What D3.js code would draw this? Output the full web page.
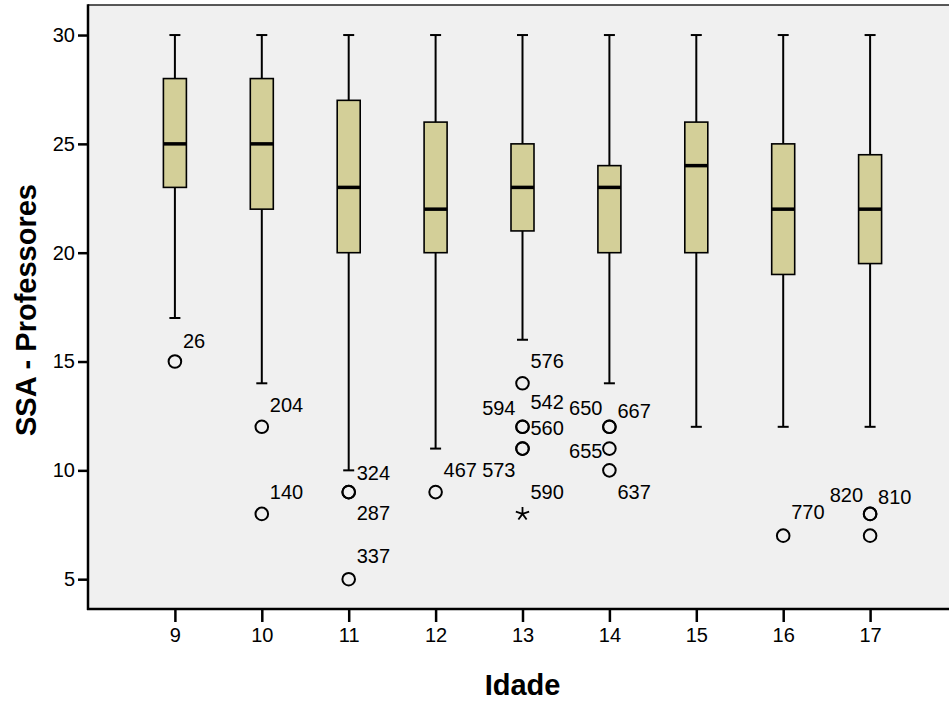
<!DOCTYPE html>
<html>
<head>
<meta charset="utf-8">
<script src="https://cdn.jsdelivr.net/npm/d3@7"></script>
<style>
  html, body { margin: 0; padding: 0; background: #ffffff; }
  svg { display: block; }
  text { font-family: "Liberation Sans", Arial, sans-serif; fill: #000; }
</style>
</head>
<body>
<svg id="chart" width="949" height="702"></svg>
<script>
// ---------- data ----------
const ages        = [9, 10, 11, 12, 13, 14, 15, 16, 17];
const whiskerLow  = [17, 14, 10, 11, 16, 14, 12, 12, 12];
const q1          = [23, 22, 20, 20, 21, 20, 20, 19, 19.5];
const medians     = [25, 25, 23, 22, 23, 23, 24, 22, 22];
const q3          = [28, 28, 27, 26, 25, 24, 26, 25, 24.5];
const whiskerHigh = [30, 30, 30, 30, 30, 30, 30, 30, 30];

const outlierAge   = [9, 10, 10, 11, 11, 11, 12, 13, 13, 13, 13, 13, 13, 14, 14, 14, 14, 16, 17, 17, 17];
const outlierValue = [15, 12, 8, 9, 9, 5, 9, 14, 12, 12, 11, 11, 8, 12, 12, 11, 10, 7, 8, 8, 7];
const outlierId    = ["26", "204", "140", "324", "287", "337", "467", "576", "542", "594", "560", "573", "590",
                      "650", "667", "655", "637", "770", "820", "810", ""];
const outlierKind  = ["o","o","o","o","o","o","o","o","o","o","o","o","*","o","o","o","o","o","o","o","o"];

const yTicks = [5, 10, 15, 20, 25, 30];
const xLabel = "Idade";
const yLabel = "SSA - Professores";

// label placement (layout, not data): side and vertical offset in px
const labelSide = ["r","r","r","r","r","r","r","r","r","l","r","l","r","l","r","l","r","r","l","r",""];
const labelDy   = [-21,-22,-22,-19,21,-23,-22,-22,-25,-19,-21,21,-22,-19,-16,2,21,-24,-19,-17,0];

// ---------- layout ----------
const svg = d3.select("#chart");
const mLeft = 88, mTop = 5, mBottom = 609, mRight = 957;

const x = d3.scaleLinear().domain([8, 18]).range([mLeft, mRight]);
const y = d3.scaleLinear().domain([3.63, 31.38]).range([mBottom, mTop]);

// plot background
svg.append("rect")
  .attr("x", mLeft).attr("y", mTop)
  .attr("width", mRight - mLeft).attr("height", mBottom - mTop)
  .attr("fill", "#f0f0f0");

// top border
svg.append("line")
  .attr("x1", mLeft).attr("x2", mRight).attr("y1", mTop).attr("y2", mTop)
  .attr("stroke", "#222").attr("stroke-width", 1.5);

const boxW = 23, capW = 11;
const boxData = ages.map((a, i) => ({a, lo: whiskerLow[i], q1: q1[i], med: medians[i], q3: q3[i], hi: whiskerHigh[i]}));

const g = svg.append("g");
const boxes = g.selectAll("g.box").data(boxData).join("g").attr("class", "box");

// whiskers
boxes.append("line")
  .attr("x1", d => x(d.a)).attr("x2", d => x(d.a))
  .attr("y1", d => y(d.hi)).attr("y2", d => y(d.q3))
  .attr("stroke", "#000").attr("stroke-width", 2);
boxes.append("line")
  .attr("x1", d => x(d.a)).attr("x2", d => x(d.a))
  .attr("y1", d => y(d.q1)).attr("y2", d => y(d.lo))
  .attr("stroke", "#000").attr("stroke-width", 2);
// caps
boxes.append("line")
  .attr("x1", d => x(d.a) - capW / 2).attr("x2", d => x(d.a) + capW / 2)
  .attr("y1", d => y(d.hi)).attr("y2", d => y(d.hi))
  .attr("stroke", "#000").attr("stroke-width", 2);
boxes.append("line")
  .attr("x1", d => x(d.a) - capW / 2).attr("x2", d => x(d.a) + capW / 2)
  .attr("y1", d => y(d.lo)).attr("y2", d => y(d.lo))
  .attr("stroke", "#000").attr("stroke-width", 2);
// box
boxes.append("rect")
  .attr("x", d => x(d.a) - boxW / 2).attr("width", boxW)
  .attr("y", d => y(d.q3)).attr("height", d => y(d.q1) - y(d.q3))
  .attr("fill", "#d3cf98").attr("stroke", "#000").attr("stroke-width", 1.6);
// median
boxes.append("line")
  .attr("x1", d => x(d.a) - boxW / 2).attr("x2", d => x(d.a) + boxW / 2)
  .attr("y1", d => y(d.med)).attr("y2", d => y(d.med))
  .attr("stroke", "#000").attr("stroke-width", 3.5);

// outliers
const outData = outlierAge.map((a, i) => ({a, v: outlierValue[i], id: outlierId[i], kind: outlierKind[i], side: labelSide[i], dy: labelDy[i]}));

g.selectAll("circle.out").data(outData.filter(d => d.kind === "o")).join("circle")
  .attr("class", "out")
  .attr("cx", d => x(d.a)).attr("cy", d => y(d.v)).attr("r", 6.3)
  .attr("fill", "none").attr("stroke", "#000").attr("stroke-width", 2);

// extreme (asterisk)
const starPath = (cx, cy, r) => {
  let p = "";
  for (let k = 0; k < 5; k++) {
    const ang = -Math.PI / 2 + k * 2 * Math.PI / 5;
    p += `M${cx},${cy}L${cx + r * Math.cos(ang)},${cy + r * Math.sin(ang)}`;
  }
  return p;
};
g.selectAll("path.ext").data(outData.filter(d => d.kind === "*")).join("path")
  .attr("class", "ext")
  .attr("d", d => starPath(x(d.a), y(d.v), 7))
  .attr("stroke", "#000").attr("stroke-width", 1.8).attr("fill", "none");

// outlier labels
g.selectAll("text.lab").data(outData.filter(d => d.id !== "")).join("text")
  .attr("class", "lab")
  .attr("x", d => x(d.a) + (d.side === "l" ? -7 : 8))
  .attr("y", d => y(d.v) + d.dy)
  .attr("dy", "0.36em")
  .attr("text-anchor", d => d.side === "l" ? "end" : "start")
  .attr("font-size", "20px")
  .text(d => d.id);

// axes
const yAxis = d3.axisLeft(y).tickValues(yTicks).tickSize(10).tickPadding(3).tickFormat(d3.format("d"));
const yg = svg.append("g").attr("transform", `translate(${mLeft},0)`).call(yAxis);
yg.select(".domain").remove();
yg.selectAll(".tick line").attr("stroke", "#000").attr("stroke-width", 2.5);
yg.selectAll(".tick text").attr("font-size", "20px").attr("font-family", "Liberation Sans, Arial, sans-serif").attr("fill", "#000");

const xAxis = d3.axisBottom(x).tickValues(ages).tickSize(13).tickPadding(6).tickFormat(d3.format("d"));
const xg = svg.append("g").attr("transform", `translate(0,${mBottom})`).call(xAxis);
xg.select(".domain").remove();
xg.selectAll(".tick line").attr("stroke", "#000").attr("stroke-width", 2.5);
xg.selectAll(".tick text").attr("font-size", "20px").attr("font-family", "Liberation Sans, Arial, sans-serif").attr("fill", "#000");

// axis lines
svg.append("line").attr("x1", mLeft).attr("x2", mLeft).attr("y1", mTop - 0.75).attr("y2", mBottom + 1)
  .attr("stroke", "#000").attr("stroke-width", 2.5);
svg.append("line").attr("x1", mLeft - 1).attr("x2", mRight).attr("y1", mBottom).attr("y2", mBottom)
  .attr("stroke", "#000").attr("stroke-width", 2.5);

// axis titles
svg.append("text")
  .attr("x", (mLeft + 949) / 2 + 4).attr("y", 695)
  .attr("text-anchor", "middle").attr("font-size", "29px").attr("font-weight", "bold")
  .text(xLabel);
svg.append("text")
  .attr("transform", `translate(36, ${(mTop + mBottom) / 2 + 3}) rotate(-90)`)
  .attr("text-anchor", "middle").attr("font-size", "29px").attr("font-weight", "bold")
  .text(yLabel);
</script>
</body>
</html>
